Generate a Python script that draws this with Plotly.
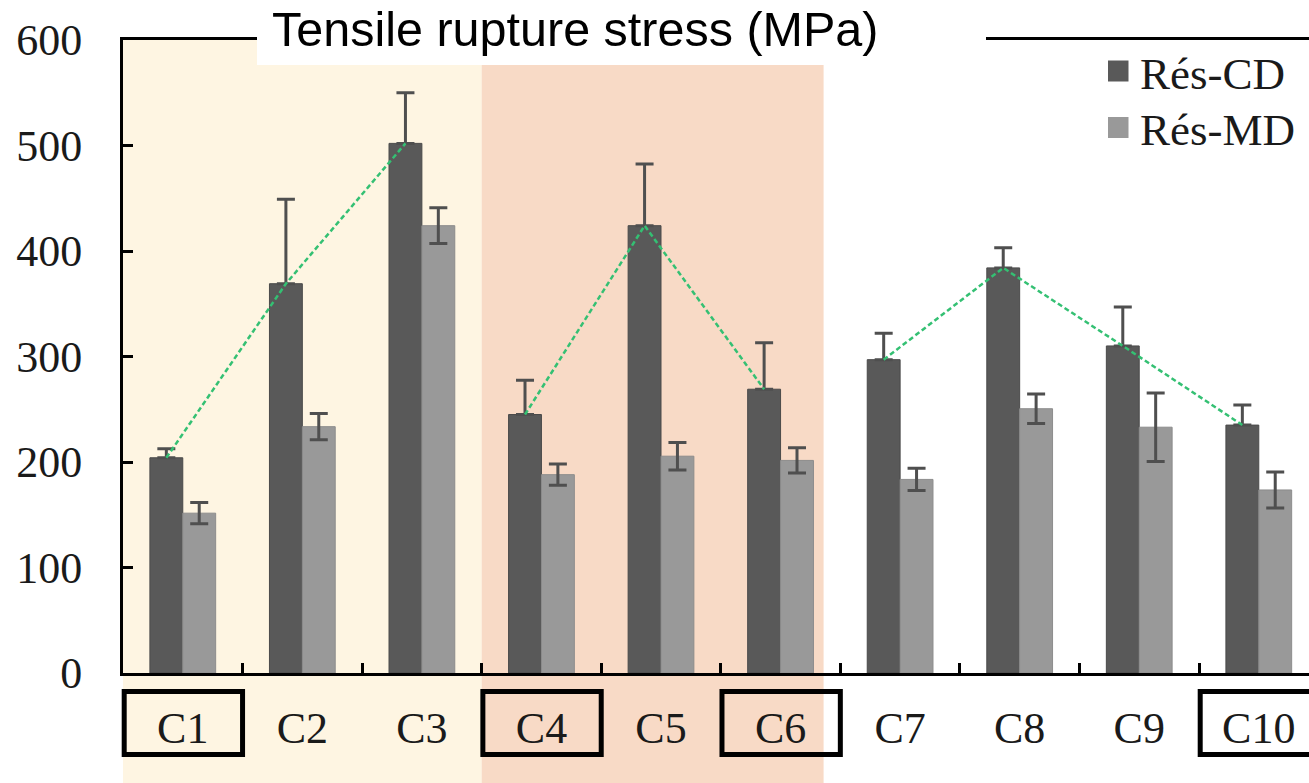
import numpy as np
import plotly.graph_objects as go

# ---- data ----
categories = ["C1", "C2", "C3", "C4", "C5", "C6", "C7", "C8", "C9", "C10"]
res_cd = [204, 369, 502, 245, 424, 269, 297, 384, 310, 235]
res_cd_err = [8.5, 80, 48, 32.5, 58.5, 44, 25, 19, 37, 19]
res_md = [151.5, 233.5, 424, 188, 205.5, 201.5, 183.5, 250.5, 233, 173.5]
res_md_err = [10, 12.5, 17, 10, 13, 12, 10.5, 14, 32.5, 17]
trend_groups = [["C1", "C2", "C3"], ["C4", "C5", "C6"], ["C7", "C8", "C9", "C10"]]
boxed_labels = ["C1", "C4", "C6", "C10"]
y_ticks = [0, 100, 200, 300, 400, 500, 600]

# ---- layout constants ----
W, H = 1309, 783
ML, MR, MT, MB = 123, 0, 40, 110
X_RANGE = [-0.5, 9.42]
Y_RANGE = [0, 600]
BARGAP = 0.45
SERIF = "Liberation Serif"
SANS = "Liberation Sans"
CD_COLOR = "#595959"
MD_COLOR = "#999999"
ERR_COLOR = "#4f4f4f"
TREND_COLOR = "#34c073"

plot_w = W - ML - MR
plot_h = H - MT - MB


def px_to_paper_x(px):
    return (px - ML) / plot_w


def px_to_paper_y(py):
    return (H - MB - py) / plot_h


def data_to_paper_x(xd):
    return (xd - X_RANGE[0]) / (X_RANGE[1] - X_RANGE[0])


idx = np.arange(len(categories))
pos = {c: i for i, c in enumerate(categories)}

fig = go.Figure()

fig.add_trace(go.Bar(
    x=idx, y=res_cd, name="Rés-CD",
    marker=dict(color=CD_COLOR, line=dict(color="#4a4a4a", width=1)),
    error_y=dict(type="data", symmetric=False, array=res_cd_err,
                 arrayminus=[0] * len(res_cd), color=ERR_COLOR,
                 thickness=3, width=9),
    showlegend=False,
))
fig.add_trace(go.Bar(
    x=idx, y=res_md, name="Rés-MD",
    marker=dict(color=MD_COLOR, line=dict(color="#8c8c8c", width=1)),
    error_y=dict(type="data", array=res_md_err, color=ERR_COLOR,
                 thickness=3, width=9),
    showlegend=False,
))

# dashed trend lines joining the tops of the Rés-CD bars
bar_w = (1 - BARGAP) / 2
cd_offset = -bar_w / 2
for grp in trend_groups:
    fig.add_trace(go.Scatter(
        x=[pos[c] + cd_offset for c in grp],
        y=[res_cd[pos[c]] for c in grp],
        mode="lines",
        line=dict(color=TREND_COLOR, width=2.5, dash="5px,3px"),
        showlegend=False, hoverinfo="skip",
    ))

shapes = []
# background bands for the first two series groups
shapes.append(dict(type="rect", xref="x", yref="paper",
                   x0=-0.5, x1=2.5, y0=px_to_paper_y(H), y1=1,
                   fillcolor="#fef5e2", line=dict(width=0), layer="below"))
shapes.append(dict(type="rect", xref="x", yref="paper",
                   x0=2.5, x1=5.36, y0=px_to_paper_y(H), y1=1,
                   fillcolor="#f8dac6", line=dict(width=0), layer="below"))

# frames around selected category labels
for c in boxed_labels:
    i = pos[c]
    shapes.append(dict(type="rect", xref="paper", yref="paper",
                       x0=data_to_paper_x(i - 0.49), x1=data_to_paper_x(i + 0.5),
                       y0=px_to_paper_y(754.5), y1=px_to_paper_y(691.5),
                       line=dict(color="black", width=5), layer="above"))

# white panel behind the heading
shapes.append(dict(type="rect", xref="paper", yref="paper",
                   x0=px_to_paper_x(257), x1=px_to_paper_x(986),
                   y0=px_to_paper_y(65), y1=px_to_paper_y(-2),
                   fillcolor="white", line=dict(width=0), layer="above"))

# legend swatches
for name, color, cy in [("Rés-CD", CD_COLOR, 71), ("Rés-MD", MD_COLOR, 127.5)]:
    shapes.append(dict(type="rect", xref="paper", yref="paper",
                       x0=px_to_paper_x(1108), x1=px_to_paper_x(1128.5),
                       y0=px_to_paper_y(cy + 10.5), y1=px_to_paper_y(cy - 10.5),
                       fillcolor=color, line=dict(width=0), layer="above"))

annotations = [
    dict(text="Tensile rupture stress (MPa)", xref="paper", yref="paper",
         x=px_to_paper_x(575), y=px_to_paper_y(29), xanchor="center",
         yanchor="middle", showarrow=False,
         font=dict(family=SANS, size=48.5, color="black")),
    dict(text="Rés-CD", xref="paper", yref="paper",
         x=px_to_paper_x(1138), y=px_to_paper_y(74), xanchor="left",
         yanchor="middle", showarrow=False,
         font=dict(family=SERIF, size=45, color="#1a1a1a")),
    dict(text="Rés-MD", xref="paper", yref="paper",
         x=px_to_paper_x(1138), y=px_to_paper_y(130), xanchor="left",
         yanchor="middle", showarrow=False,
         font=dict(family=SERIF, size=45, color="#1a1a1a")),
]

fig.update_layout(
    width=W, height=H,
    margin=dict(l=ML, r=MR, t=MT, b=MB, pad=0),
    paper_bgcolor="white",
    plot_bgcolor="rgba(0,0,0,0)",
    barmode="group", bargap=BARGAP, bargroupgap=0,
    showlegend=False,
    shapes=shapes,
    annotations=annotations,
    xaxis=dict(
        range=X_RANGE, tickmode="array", tickvals=idx, ticktext=categories,
        ticks="", showgrid=False, zeroline=False,
        showline=True, linecolor="black", linewidth=3, mirror=True,
        tickfont=dict(family=SERIF, size=44, color="#1a1a1a"),
        ticklabelstandoff=14,
        minor=dict(tickmode="array", tickvals=list(idx[:-1] + 0.5),
                   ticks="inside", ticklen=10, tickwidth=3, tickcolor="black",
                   showgrid=False),
        automargin=False, fixedrange=True,
    ),
    yaxis=dict(
        range=Y_RANGE, tickmode="array", tickvals=y_ticks,
        ticks="inside", ticklen=10, tickwidth=3, tickcolor="black",
        showgrid=False, zeroline=False,
        showline=True, linecolor="black", linewidth=3,
        tickfont=dict(family=SERIF, size=44, color="#1a1a1a"),
        ticklabelstandoff=29,
        automargin=False, fixedrange=True,
    ),
)

fig.write_html("out.html")
